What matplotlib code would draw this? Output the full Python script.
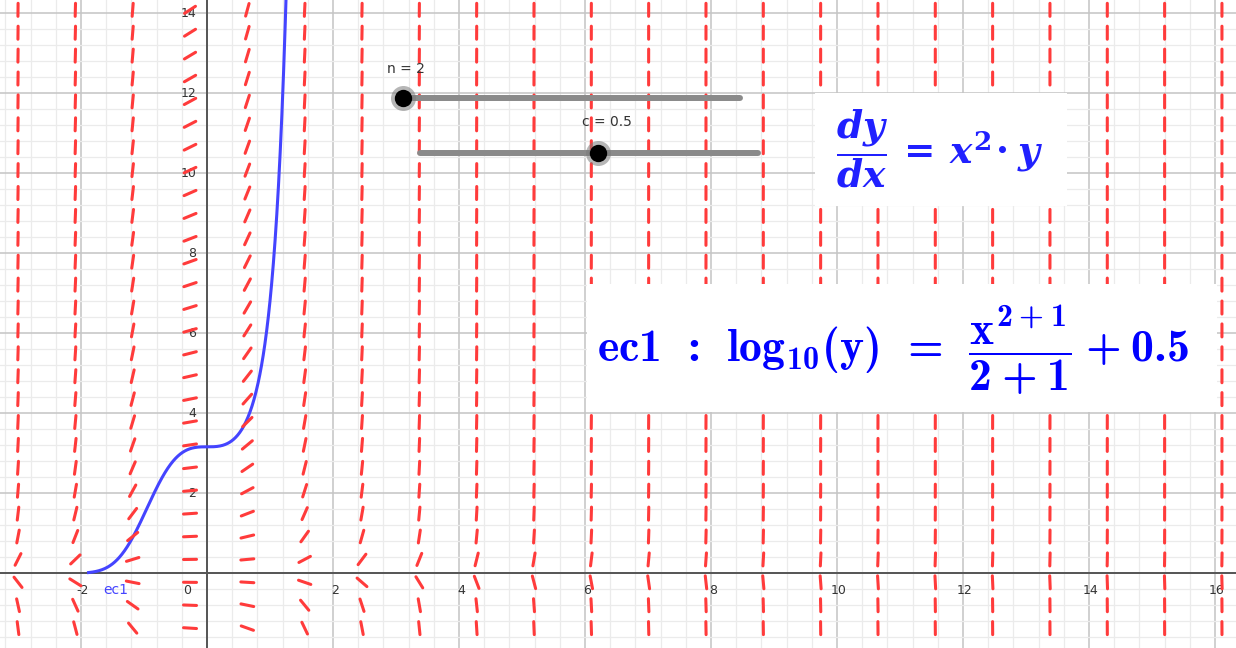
"""
Slope field of dy/dx = x^n * y with the particular solution
log10(y) = x^(n+1)/(n+1) + c drawn on top, plus the two parameter sliders.
"""

import numpy as np
import matplotlib
import matplotlib.pyplot as plt
from matplotlib.collections import LineCollection
from matplotlib.patches import Rectangle

matplotlib.rcParams["mathtext.fontset"] = "custom"
matplotlib.rcParams["mathtext.rm"] = "DejaVu Serif:bold"
matplotlib.rcParams["mathtext.it"] = "DejaVu Serif:italic:bold"
matplotlib.rcParams["mathtext.bf"] = "cmb10"

# ---------------------------------------------------------------------------
# Parameters / data
# ---------------------------------------------------------------------------

n_exp = 2          # exponent n in dy/dx = x^n * y
c_shift = 0.5      # constant c of the particular solution
n_range = (2, 10)  # slider limits
c_range = (-10, 10)

# slope-field sample grid
field_x0, field_dx, field_cols = -3.0, 0.91, 22
field_y0, field_dy, field_rows = -1.37, 0.5725, 28

curve_x_start, curve_x_end = -1.88, 1.35

x_ticks = [-2, 0, 2, 4, 6, 8, 10, 12, 14, 16]
y_ticks = [2, 4, 6, 8, 10, 12, 14]

XLIM = (-3.286, 16.333)
YLIM = (-1.867, 14.333)
FIG_W, FIG_H, DPI = 12.36, 6.48, 100

RED = "#ff3b3b"
BLUE = "#4444ff"


def slope(x, y):
    return x ** n_exp * y


def solution(x):
    return 10 ** (x ** (n_exp + 1) / (n_exp + 1) + c_shift)


# ---------------------------------------------------------------------------
# Drawing helpers
# ---------------------------------------------------------------------------

def draw_grid(ax):
    ax.set_xticks(np.arange(-4, 18, 2))
    ax.set_yticks(np.arange(-2, 16, 2))
    ax.set_xticks(np.arange(-9, 42) * 0.4, minor=True)
    ax.set_yticks(np.arange(-5, 37) * 0.4, minor=True)
    ax.grid(which="minor", color="#ebebeb", lw=0.9)
    ax.grid(which="major", color="#c4c4c4", lw=1.1)
    ax.tick_params(which="both", length=0, labelbottom=False, labelleft=False)
    for sp in ax.spines.values():
        sp.set_visible(False)
    ax.set_axisbelow(True)

    ax.axhline(0, color="#555555", lw=1.4, zorder=1.5)
    ax.axvline(0, color="#555555", lw=1.4, zorder=1.5)

    for t in x_ticks:
        xpos = -0.32 if t == 0 else t + 0.03
        ax.text(xpos, -0.42, str(t), ha="center", va="center",
                fontsize=9, color="#333333")
    for t in y_ticks:
        ax.text(-0.17, t, str(t), ha="right", va="center",
                fontsize=9, color="#333333")


def draw_slope_field(ax, half_px=6.5):
    """Short segments of equal on-screen length along the local slope."""
    sx = FIG_W * DPI / (XLIM[1] - XLIM[0])
    sy = FIG_H * DPI / (YLIM[1] - YLIM[0])
    xs = field_x0 + field_dx * np.arange(field_cols)
    ys = field_y0 + field_dy * np.arange(field_rows)
    gx, gy = np.meshgrid(xs, ys)
    m = slope(gx, gy)
    norm = np.hypot(sx, sy * m)
    hx = half_px / norm
    hy = half_px * m / norm
    segs = np.stack([np.stack([gx - hx, gy - hy], -1),
                     np.stack([gx + hx, gy + hy], -1)], axis=-2).reshape(-1, 2, 2)
    lc = LineCollection(segs, colors=RED, linewidths=2.2, capstyle="round", zorder=3)
    ax.add_collection(lc)


def draw_slider(ax, x0, x1, y, value, vrange, label, label_xy):
    ax.plot([x0, x1], [y, y], color="#8a8a8a", lw=4.3,
            solid_capstyle="round", zorder=4)
    frac = (value - vrange[0]) / (vrange[1] - vrange[0])
    xd = x0 + frac * (x1 - x0)
    ax.plot(xd, y, "o", ms=18, color="#7a7a7a", alpha=0.55, mew=0, zorder=5)
    ax.plot(xd, y, "o", ms=12.5, color="black", mew=0, zorder=6)
    ax.text(*label_xy, label, ha="center", va="center", fontsize=10,
            color="#333333", zorder=6)


# ---------------------------------------------------------------------------
# Figure
# ---------------------------------------------------------------------------

fig = plt.figure(figsize=(FIG_W, FIG_H), dpi=DPI)
ax = fig.add_axes([0, 0, 1, 1])

draw_grid(ax)
draw_slope_field(ax)

cx = np.linspace(curve_x_start, curve_x_end, 600)
ax.plot(cx, solution(cx), color=BLUE, lw=2.2, zorder=2.5)
ax.text(-1.45, -0.42, "ec1", color=BLUE, fontsize=10, ha="center", va="center")

draw_slider(ax, 3.11, 8.46, 11.88, n_exp, n_range, f"n = {n_exp}", (3.16, 12.61))
draw_slider(ax, 3.38, 8.75, 10.52, c_shift, c_range, f"c = {c_shift}", (6.35, 11.28))

# equation boxes
ax.add_patch(Rectangle((9.65, 9.18), 4.0, 2.83, facecolor="white",
                       edgecolor="none", zorder=7))
ax.text(11.63, 10.62, r"$\dfrac{dy}{dx}\,=\,x^{2}\!\cdot y$", color="#2020ff",
        fontsize=27, ha="center", va="center", zorder=8)

ax.add_patch(Rectangle((6.03, 4.03), 10.0, 3.2, facecolor="white",
                       edgecolor="none", zorder=7))
ax.text(10.89, 5.58,
        r"$\mathbf{ec1\ :\ log_{10}(y)\ =\ \dfrac{x^{2+1}}{2+1}+0.5}$",
        color="#0000ff", fontsize=33, ha="center", va="center", zorder=8)

# limits last: set_xticks would otherwise widen the view
ax.set_xlim(*XLIM)
ax.set_ylim(*YLIM)

fig.savefig("out.png", dpi=DPI)
